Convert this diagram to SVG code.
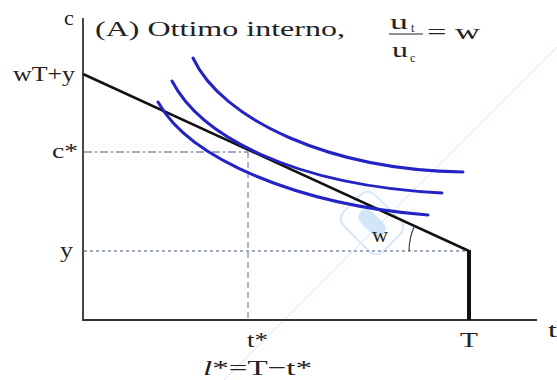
<svg xmlns="http://www.w3.org/2000/svg" width="557" height="380" viewBox="0 0 557 380">
<style>
text{font-family:"Liberation Serif","Times New Roman",serif;fill:#222;}
.lbl{font-size:22px;}
.ic{fill:none;stroke:#2424c4;stroke-width:3;stroke-linecap:round;}
.ax{stroke:#333;stroke-width:1.8;fill:none;}
.guide{stroke:#8090a8;stroke-width:1.3;fill:none;}
</style>
<rect width="557" height="380" fill="#fff"/>
<g id="watermark" opacity="0.5">
<line x1="557" y1="47" x2="224" y2="380" stroke="#a8cdf2" stroke-width="1"/>
<g transform="translate(372,223) rotate(-45)">
<rect x="-22" y="-28" width="44" height="56" rx="10" fill="none" stroke="#b5d5f5" stroke-width="2"/>
<rect x="-8" y="-16" width="16" height="32" rx="8" fill="#a8cdf2"/>
</g>
</g>
<g id="guides">
<line class="guide" x1="84" y1="152" x2="248" y2="152" stroke-dasharray="8,3,2,3"/>
<line class="guide" x1="248" y1="152" x2="248" y2="320" stroke-dasharray="6,4"/>
<line class="guide" x1="84" y1="251" x2="469" y2="251" stroke-dasharray="3,3"/>
</g>
<g id="axes">
<polyline class="ax" points="83,18 83,320 537,320"/>
</g>
<g id="budget">
<polyline points="83,74 469,251" fill="none" stroke="#111" stroke-width="2.5"/>
<line x1="469" y1="250" x2="469" y2="320" stroke="#111" stroke-width="4"/>
<path d="M409,251 A60,60 0 0 1 414.5,226" fill="none" stroke="#444" stroke-width="1.2"/>
</g>
<g id="curves">
<path class="ic" d="M193,58 C222,120 330,170 463,172"/>
<path class="ic" d="M172,81 C200,135 290,185 442,193"/>
<path class="ic" d="M158,102 C190,160 300,205 428,215"/>
</g>
<g id="labels">
<text class="lbl" x="64" y="25">c</text>
<text class="lbl" x="95" y="36" textLength="250" lengthAdjust="spacingAndGlyphs">(A) Ottimo interno,</text>
<text x="390" y="29" font-size="22" textLength="18" lengthAdjust="spacingAndGlyphs">u</text>
<text x="411" y="32" font-size="12">t</text>
<line x1="389" y1="34" x2="423" y2="34" stroke="#222" stroke-width="1"/>
<text x="392" y="57" font-size="22" textLength="16" lengthAdjust="spacingAndGlyphs">u</text>
<text x="410" y="62" font-size="12">c</text>
<text class="lbl" x="427" y="39" textLength="53" lengthAdjust="spacingAndGlyphs">= w</text>
<text class="lbl" x="13" y="81" textLength="62" lengthAdjust="spacingAndGlyphs">wT+y</text>
<text class="lbl" x="52" y="158" textLength="26" lengthAdjust="spacingAndGlyphs">c*</text>
<text class="lbl" x="60" y="257" textLength="13" lengthAdjust="spacingAndGlyphs">y</text>
<text x="372" y="242" font-size="20" textLength="16" lengthAdjust="spacingAndGlyphs">w</text>
<text class="lbl" x="247" y="347" textLength="21" lengthAdjust="spacingAndGlyphs">t*</text>
<text class="lbl" x="203" y="375" textLength="109" lengthAdjust="spacingAndGlyphs"><tspan font-style="italic">l</tspan>*=T−t*</text>
<text class="lbl" x="460" y="347" textLength="18" lengthAdjust="spacingAndGlyphs">T</text>
<text class="lbl" x="548" y="337" textLength="9" lengthAdjust="spacingAndGlyphs">t</text>
</g>
</svg>
